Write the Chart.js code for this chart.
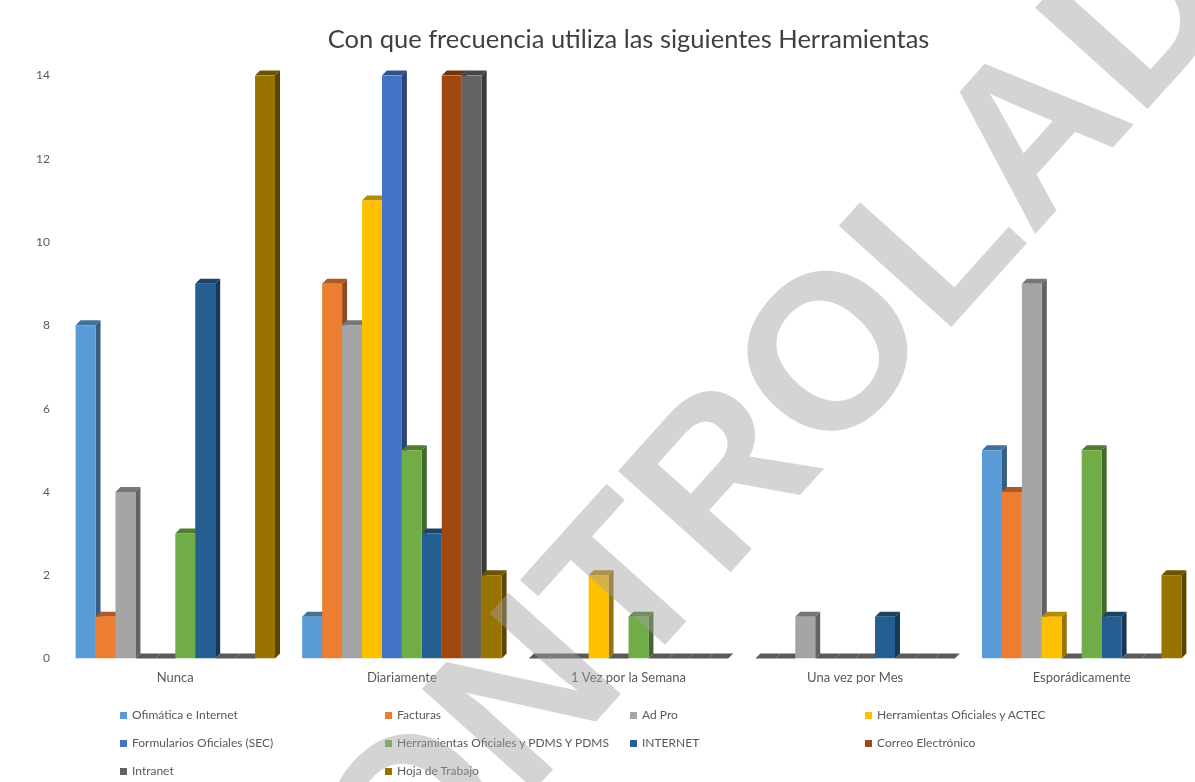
<!DOCTYPE html>
<html lang="es">
<head>
<meta charset="utf-8">
<title>Frecuencia de uso de herramientas</title>
<script src="https://cdn.jsdelivr.net/npm/chart.js@4.4.1/dist/chart.umd.min.js"></script>
<style>
  html, body { margin: 0; padding: 0; background: #fff; }
  #wrap { position: relative; width: 1195px; height: 782px; overflow: hidden; }
  #chart { position: absolute; left: 0; top: 0; }
  #legend { position: absolute; left: 0; top: 0; width: 1195px; height: 782px; pointer-events: none;
            font-family: Lato, "Liberation Sans", sans-serif; font-size: 12px; color: #595959; }
  .item { position: absolute; white-space: nowrap; line-height: 14px; }
  .item i { display: inline-block; width: 7px; height: 7px; margin-right: 5px; }
  #sello { position: absolute; left: 775px; top: 410px; transform: translate(-50%, -50%) rotate(-48deg);
           font: bold 220px "Liberation Sans", Arial, sans-serif; color: rgba(160,160,160,0.45);
           white-space: nowrap; pointer-events: none; }
</style>
</head>
<body>
<div id="wrap">
  <canvas id="chart" width="1195" height="782"></canvas>
  <div id="legend"></div>
  <div id="sello">CONTROLADO</div>
</div>
<script>
// Encuesta: frecuencia de uso de herramientas
const TITLE = "Con que frecuencia utiliza las siguientes Herramientas";
const CATEGORIES = ["Nunca", "Diariamente", "1 Vez por la Semana", "Una vez por Mes", "Esporádicamente"];

const SERIES_NAMES = [
  "Ofimática e Internet",
  "Facturas",
  "Ad Pro",
  "Herramientas Oficiales y ACTEC",
  "Formularios Oficiales (SEC)",
  "Herramientas Oficiales y PDMS Y PDMS",
  "INTERNET",
  "Correo Electrónico",
  "Intranet",
  "Hoja de Trabajo",
];

// un arreglo por herramienta, en el orden de CATEGORIES
const OFIMATICA   = [8, 1, 0, 0, 5];
const FACTURAS    = [1, 9, 0, 0, 4];
const AD_PRO      = [4, 8, 0, 1, 9];
const ACTEC       = [0, 11, 2, 0, 1];
const FORMULARIOS = [0, 14, 0, 0, 0];
const PDMS        = [3, 5, 1, 0, 5];
const INTERNET    = [9, 3, 0, 1, 1];
const CORREO      = [0, 14, 0, 0, 0];
const INTRANET    = [0, 14, 0, 0, 0];
const HOJA        = [14, 2, 0, 0, 2];

const SERIES_VALUES = [OFIMATICA, FACTURAS, AD_PRO, ACTEC, FORMULARIOS, PDMS, INTERNET, CORREO, INTRANET, HOJA];

const Y_TICKS = [0, 2, 4, 6, 8, 10, 12, 14];

const COLORS = [
  "#5B9BD5", "#ED7D31", "#A5A5A5", "#FFC000", "#4472C4",
  "#70AD47", "#255E91", "#9E480E", "#636363", "#997300"
];

const TEXT_COLOR = "#595959";
const DEPTH = 5;

function shade(hex, f) {
  const n = parseInt(hex.slice(1), 16);
  const r = Math.round(((n >> 16) & 255) * f);
  const g = Math.round(((n >> 8) & 255) * f);
  const b = Math.round((n & 255) * f);
  return `rgb(${r},${g},${b})`;
}

// caras laterales y tapas (efecto 3D); se pintan antes que los frentes,
// así la columna vecina tapa el lateral de la anterior
const depth3d = {
  id: "depth3d",
  beforeDatasetsDraw(chart) {
    const ctx = chart.ctx;
    const d = DEPTH;
    ctx.save();
    chart.data.datasets.forEach((ds, k) => {
      const meta = chart.getDatasetMeta(k);
      const color = COLORS[k];
      meta.data.forEach((bar, i) => {
        const p = bar.getProps(["x", "y", "base", "width"], true);
        const l = p.x - p.width / 2, r = p.x + p.width / 2;
        if (ds.data[i] === 0) {
          ctx.fillStyle = "#5a5a5a";
          ctx.beginPath();
          ctx.moveTo(l, p.base); ctx.lineTo(l + d, p.base - d);
          ctx.lineTo(r + d, p.base - d); ctx.lineTo(r, p.base);
          ctx.closePath(); ctx.fill();
          return;
        }
        ctx.fillStyle = shade(color, 0.6);
        ctx.beginPath();
        ctx.moveTo(r, p.y); ctx.lineTo(r + d, p.y - d);
        ctx.lineTo(r + d, p.base - d); ctx.lineTo(r, p.base);
        ctx.closePath(); ctx.fill();
        ctx.fillStyle = shade(color, 0.72);
        ctx.beginPath();
        ctx.moveTo(l, p.y); ctx.lineTo(l + d, p.y - d);
        ctx.lineTo(r + d, p.y - d); ctx.lineTo(r, p.y);
        ctx.closePath(); ctx.fill();
      });
    });
    ctx.restore();
  }
};

// leyenda en columnas fijas, como en la hoja original
function buildLegend() {
  const cols = [120, 385, 630, 865];
  const rows = [708, 736, 764];
  const el = document.getElementById("legend");
  SERIES_NAMES.forEach((name, i) => {
    const it = document.createElement("div");
    it.className = "item";
    it.style.left = cols[i % 4] + "px";
    it.style.top = rows[Math.floor(i / 4)] + "px";
    it.innerHTML = `<i style="background:${COLORS[i]}"></i>${name}`;
    el.appendChild(it);
  });
}

Chart.defaults.font.family = "Lato, 'Liberation Sans', sans-serif";
Chart.defaults.color = TEXT_COLOR;

new Chart(document.getElementById("chart").getContext("2d"), {
  type: "bar",
  data: {
    labels: CATEGORIES,
    datasets: SERIES_NAMES.map((name, i) => ({
      label: name,
      data: SERIES_VALUES[i],
      backgroundColor: COLORS[i],
      borderWidth: 0,
      categoryPercentage: 0.88,
      barPercentage: 1.0,
    }))
  },
  options: {
    responsive: false,
    animation: false,
    layout: { padding: { top: 24, left: 10, right: 0, bottom: 84 } },
    plugins: {
      legend: { display: false },
      tooltip: { enabled: false },
      title: {
        display: true,
        fullSize: false,
        text: TITLE,
        color: "#404040",
        font: { size: 25.5, weight: "normal" },
        padding: { top: 0, bottom: 21 },
      },
    },
    scales: {
      x: {
        grid: { display: false, drawTicks: false },
        border: { display: false },
        ticks: { font: { size: 13 }, color: TEXT_COLOR, padding: 12 },
      },
      y: {
        min: 0,
        max: 14,
        afterBuildTicks: (axis) => { axis.ticks = Y_TICKS.map(v => ({ value: v })); },
        afterFit: (axis) => { axis.width = 52; },
        grid: { display: false, drawTicks: false },
        border: { display: false },
        ticks: { font: { size: 12 }, color: TEXT_COLOR, padding: 12 },
      },
    },
  },
  plugins: [depth3d],
});

buildLegend();
</script>
</body>
</html>
